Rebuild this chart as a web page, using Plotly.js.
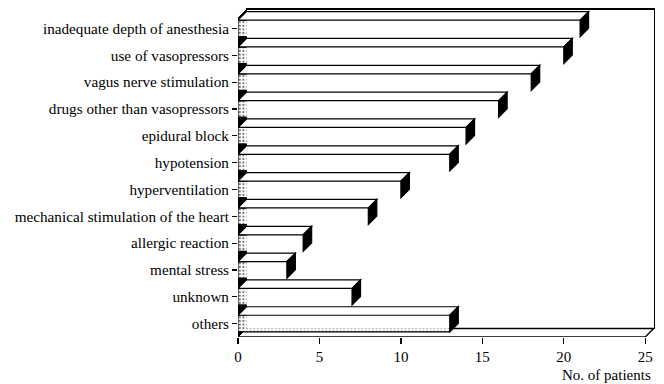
<!DOCTYPE html>
<html>
<head>
<meta charset="utf-8">
<script src="https://cdn.plot.ly/plotly-3.0.1.min.js"></script>
<style>html,body{margin:0;padding:0;background:#fff;}#chart{width:664px;height:384px;}</style>
</head>
<body>
<div id="chart"></div>
<script>
const categories = [
  "inadequate depth of anesthesia",
  "use of vasopressors",
  "vagus nerve stimulation",
  "drugs other than vasopressors",
  "epidural block",
  "hypotension",
  "hyperventilation",
  "mechanical stimulation of the heart",
  "allergic reaction",
  "mental stress",
  "unknown",
  "others"
];
const patients = [21, 20, 18, 16, 14, 13, 10, 8, 4, 3, 7, 13];
const xTicks = [0, 5, 10, 15, 20, 25];
const xTitle = "No. of patients";

const W = 664, H = 384;
const n = categories.length;
const catPx = 26.83;              // pixel spacing between category rows
const xMax = 25;
const pxPerUnit = 16.32;
const depthPx = 8.5;
const dxU = depthPx / pxPerUnit;  // depth in x data units
const dyU = depthPx / catPx;      // depth in y (category) units
const xRangeMax = xMax + dxU + 0.2;
const left = 237.5;
const bottom = 47;
const plotH = 331;
const margin = {l: left, r: W - left - xRangeMax * pxPerUnit, t: H - bottom - plotH, b: bottom};
const yBottom = n - 0.5;
const yTop = yBottom - plotH / catPx;
const yLen = yBottom - yTop;
const wallH = 319 / catPx;        // front height of the walls (category units)
const frontTop = yBottom - wallH;
const backTop = frontTop - dyU;
const backBottom = yBottom - dyU;
const barFrac = 0.62;
const halfU = barFrac / 2;
const font = "Liberation Serif, Times New Roman, serif";

function f(v) { return v.toFixed(5); }
function P(pts) { return 'M ' + pts.map(p => f(p[0]) + ',' + f(p[1])).join(' L ') + ' Z'; }
function L(pts) { return 'M ' + pts.map(p => f(p[0]) + ',' + f(p[1])).join(' L '); }

const shapes = [];
const base = {type: 'path', xref: 'x', yref: 'y', layer: 'above'};
// floor: front edge, right edge, visible part of the back edge
shapes.push(Object.assign({}, base, {path: L([[0, yBottom], [xMax, yBottom], [xMax + dxU, backBottom], [patients[n - 1], backBottom]]),
  line: {color: 'black', width: 1.4}}));
// left wall (black), visible between the bars
shapes.push(Object.assign({}, base, {path: P([[0, 0 - halfU], [0, frontTop], [dxU, backTop], [dxU, 0 - halfU]]),
  line: {color: 'black', width: 1}, fillcolor: 'black'}));
for (let i = 0; i < n - 1; i++) {
  shapes.push(Object.assign({}, base, {path: P([[0, i + halfU], [dxU, i + halfU], [dxU, i + 1 - halfU], [0, i + 1 - halfU]]),
    line: {color: 'black', width: 1}, fillcolor: 'black'}));
}
{
  const yb = (n - 1) + halfU;
  const t = (yBottom - yb) / dyU;
  shapes.push(Object.assign({}, base, {path: P([[0, yb], [0, yBottom], [t * dxU, yb]]),
    line: {color: 'black', width: 1}, fillcolor: 'black'}));
}

patients.forEach((v, i) => {
  // top face
  shapes.push(Object.assign({}, base, {
    path: P([[0, i - halfU], [v, i - halfU], [v + dxU, i - halfU - dyU], [dxU, i - halfU - dyU]]),
    line: {color: 'black', width: 1.2}, fillcolor: 'white'}));
  // right face
  shapes.push(Object.assign({}, base, {
    path: P([[v, i + halfU], [v, i - halfU], [v + dxU, i - halfU - dyU], [v + dxU, i + halfU - dyU]]),
    line: {color: 'black', width: 1.2}, fillcolor: 'black'}));
});

const bars = {
  type: 'bar', orientation: 'h',
  x: patients, y: categories.map((c, i) => i),
  width: barFrac,
  marker: {
    color: 'white',
    line: {color: 'black', width: 1.2},
    pattern: {shape: '.', fgcolor: '#666', bgcolor: 'white', size: 3.6, solidity: 0.25}
  },
  hoverinfo: 'skip'
};
// empty trace on a second pair of axes whose top and right lines form the back wall
const wallAxes = {type: 'scatter', mode: 'lines', x: [], y: [], xaxis: 'x2', yaxis: 'y2', hoverinfo: 'skip'};

const layout = {
  width: W, height: H,
  margin: margin,
  paper_bgcolor: 'white', plot_bgcolor: 'white',
  showlegend: false,
  font: {family: font, color: 'black', size: 15},
  xaxis: {
    range: [0, xRangeMax], tickvals: xTicks, ticktext: xTicks.map(String),
    showgrid: false, zeroline: false, showline: false,
    ticks: 'outside', ticklen: 6, tickcolor: 'black', tickwidth: 1.2,
    tickfont: {family: font, size: 15, color: 'black'}
  },
  yaxis: {
    type: 'linear',
    range: [yBottom, yTop],
    tickvals: categories.map((c, i) => i), ticktext: categories,
    showgrid: false, zeroline: false, showline: false,
    ticks: 'outside', ticklen: 5, tickcolor: 'black', tickwidth: 1.2,
    tickfont: {family: font, size: 15.2, color: 'black'}
  },
  xaxis2: {
    domain: [dxU / xRangeMax, (xMax + dxU) / xRangeMax], anchor: 'y2', side: 'top',
    range: [0, 1], showline: true, linecolor: 'black', linewidth: 1.4,
    showgrid: false, zeroline: false, showticklabels: false, ticks: ''
  },
  yaxis2: {
    domain: [dyU / yLen, (dyU + wallH) / yLen], anchor: 'x2', side: 'right',
    range: [0, 1], showline: true, linecolor: 'black', linewidth: 1.4,
    showgrid: false, zeroline: false, showticklabels: false, ticks: ''
  },
  shapes: shapes,
  annotations: [{
    text: xTitle, xref: 'paper', yref: 'paper', x: 1, y: 0, xanchor: 'right', yanchor: 'middle',
    xshift: -4, yshift: -38, showarrow: false, font: {family: font, size: 15, color: 'black'}
  }]
};

Plotly.newPlot('chart', [bars, wallAxes], layout, {displayModeBar: false, staticPlot: true});
</script>
</body>
</html>
